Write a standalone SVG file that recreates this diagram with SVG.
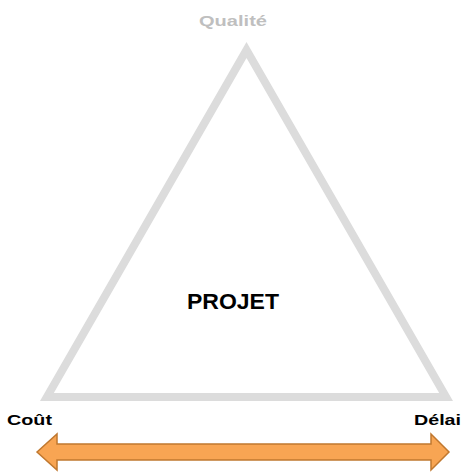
<svg xmlns="http://www.w3.org/2000/svg" width="463" height="474" viewBox="0 0 463 474">
  <style>
    .lbl { font-family: "Liberation Sans", Arial, sans-serif; font-weight: bold; }
    .corner { font-size: 15px; fill: #000000; }
    .top { font-size: 15px; fill: #BFBFBF; }
    .center { font-size: 22px; fill: #000000; }
    .tri { fill: #FFFFFF; stroke: #DCDCDC; stroke-width: 8; stroke-linejoin: miter; }
    .arrow { fill: #F8A553; stroke: #C0782F; stroke-width: 1.5; stroke-linejoin: miter; }
  </style>

  <!-- project triangle -->
  <g id="triangle">
    <polygon class="tri" points="246.5,50 46.9,397 446.1,397"/>
  </g>

  <g id="label-projet">
    <text class="lbl center" x="233" y="309" text-anchor="middle" textLength="92" lengthAdjust="spacingAndGlyphs">PROJET</text>
  </g>

  <g id="label-qualite">
    <text class="lbl top" x="233" y="26" text-anchor="middle" textLength="68" lengthAdjust="spacingAndGlyphs">Qualité</text>
  </g>

  <g id="label-cout">
    <text class="lbl corner" x="7" y="425" textLength="45" lengthAdjust="spacingAndGlyphs">Coût</text>
  </g>

  <g id="label-delai">
    <text class="lbl corner" x="414" y="425" textLength="47" lengthAdjust="spacingAndGlyphs">Délai</text>
  </g>

  <!-- double-headed arrow along the base -->
  <g id="connectors">
    <polygon class="arrow" points="37,452 57,434 57,444 431,444 431,434 449,452 431,470 431,460 57,460 57,470"/>
  </g>
</svg>
